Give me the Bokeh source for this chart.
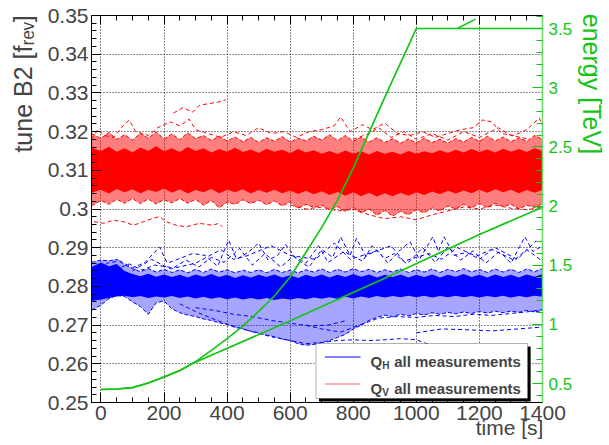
from bokeh.plotting import figure
from bokeh.models import (Range1d, LinearAxis, FixedTicker, CustomJSTickFormatter,
                          Label, BoxAnnotation, Grid)
from bokeh.embed import file_html
from bokeh.resources import INLINE

# ---------------- data ----------------
T = [-30, 0, 25, 50, 75, 100, 125, 150, 175, 200,
     225, 250, 275, 300, 325, 350, 375, 400, 425, 450,
     475, 500, 525, 550, 575, 600, 625, 650, 675, 700,
     725, 750, 775, 800, 825, 850, 875, 900, 925, 950,
     975, 1000, 1025, 1050, 1075, 1100, 1125, 1150, 1175, 1200,
     1225, 1250, 1275, 1300, 1325, 1350, 1375, 1400]

# Q_V (red) dense core and fringe envelopes
QV_CORE_HI = [0.3158, 0.3150, 0.3161, 0.3148, 0.3157, 0.3146, 0.3159, 0.3150, 0.3162, 0.3149,
              0.3157, 0.3147, 0.3160, 0.3150, 0.3157, 0.3146, 0.3155, 0.3148, 0.3158, 0.3147,
              0.3154, 0.3145, 0.3156, 0.3148, 0.3153, 0.3144, 0.3155, 0.3146, 0.3152, 0.3143,
              0.3150, 0.3142, 0.3151, 0.3143, 0.3149, 0.3141, 0.3150, 0.3143, 0.3148, 0.3141,
              0.3150, 0.3143, 0.3149, 0.3144, 0.3152, 0.3145, 0.3153, 0.3146, 0.3155, 0.3147,
              0.3154, 0.3146, 0.3156, 0.3148, 0.3155, 0.3147, 0.3157, 0.3150]
QV_CORE_LO = [0.3042, 0.3050, 0.3040, 0.3052, 0.3043, 0.3051, 0.3041, 0.3050, 0.3044, 0.3053,
              0.3042, 0.3051, 0.3040, 0.3049, 0.3043, 0.3052, 0.3041, 0.3050, 0.3043, 0.3051,
              0.3040, 0.3049, 0.3042, 0.3050, 0.3041, 0.3048, 0.3039, 0.3047, 0.3038, 0.3046,
              0.3036, 0.3044, 0.3034, 0.3043, 0.3033, 0.3042, 0.3032, 0.3041, 0.3033, 0.3042,
              0.3034, 0.3043, 0.3036, 0.3045, 0.3038, 0.3047, 0.3040, 0.3048, 0.3041, 0.3050,
              0.3042, 0.3051, 0.3043, 0.3050, 0.3041, 0.3049, 0.3042, 0.3050]
QV_FRINGE_HI = [0.3195, 0.3182, 0.3198, 0.3180, 0.3192, 0.3178, 0.3196, 0.3183, 0.3199, 0.3181,
                0.3194, 0.3179, 0.3197, 0.3182, 0.3190, 0.3177, 0.3188, 0.3176, 0.3186, 0.3174,
                0.3185, 0.3172, 0.3184, 0.3175, 0.3187, 0.3173, 0.3183, 0.3176, 0.3188, 0.3178,
                0.3192, 0.3177, 0.3190, 0.3175, 0.3186, 0.3173, 0.3184, 0.3172, 0.3182, 0.3170,
                0.3181, 0.3171, 0.3183, 0.3172, 0.3180, 0.3170, 0.3182, 0.3173, 0.3185, 0.3175,
                0.3188, 0.3176, 0.3186, 0.3174, 0.3184, 0.3175, 0.3190, 0.3180]
QV_FRINGE_LO = [0.3008, 0.3022, 0.3012, 0.3025, 0.3015, 0.3027, 0.3014, 0.3026, 0.3013, 0.3024,
                0.3016, 0.3027, 0.3015, 0.3025, 0.3010, 0.3022, 0.3003, 0.3018, 0.3012, 0.3024,
                0.3014, 0.3023, 0.3011, 0.3021, 0.3008, 0.3018, 0.3002, 0.3012, 0.3004, 0.3010,
                0.2998, 0.3006, 0.2994, 0.3004, 0.2990, 0.3000, 0.2984, 0.2996, 0.2982, 0.2994,
                0.2985, 0.2998, 0.2990, 0.3003, 0.2995, 0.3008, 0.3000, 0.3012, 0.3003, 0.3014,
                0.3004, 0.3015, 0.3006, 0.3012, 0.3000, 0.3010, 0.3004, 0.3014]

# Q_H (blue) dense core and fringe envelopes
QH_CORE_HI = [0.2850, 0.2862, 0.2852, 0.2858, 0.2840, 0.2832, 0.2826, 0.2833, 0.2825, 0.2831,
              0.2824, 0.2830, 0.2823, 0.2831, 0.2825, 0.2832, 0.2824, 0.2830, 0.2822, 0.2829,
              0.2823, 0.2830, 0.2824, 0.2831, 0.2823, 0.2829, 0.2822, 0.2830, 0.2824, 0.2831,
              0.2823, 0.2830, 0.2824, 0.2832, 0.2825, 0.2831, 0.2823, 0.2830, 0.2824, 0.2831,
              0.2823, 0.2830, 0.2824, 0.2831, 0.2823, 0.2830, 0.2825, 0.2832, 0.2824, 0.2830,
              0.2823, 0.2831, 0.2824, 0.2830, 0.2823, 0.2831, 0.2825, 0.2832]
QH_CORE_LO = [0.2762, 0.2766, 0.2770, 0.2774, 0.2776, 0.2772, 0.2775, 0.2770, 0.2774, 0.2771,
              0.2775, 0.2770, 0.2774, 0.2769, 0.2773, 0.2768, 0.2772, 0.2767, 0.2771, 0.2766,
              0.2770, 0.2766, 0.2770, 0.2765, 0.2769, 0.2766, 0.2770, 0.2767, 0.2771, 0.2768,
              0.2772, 0.2768, 0.2773, 0.2769, 0.2774, 0.2770, 0.2775, 0.2771, 0.2775, 0.2772,
              0.2776, 0.2772, 0.2776, 0.2771, 0.2775, 0.2772, 0.2776, 0.2772, 0.2775, 0.2771,
              0.2775, 0.2772, 0.2776, 0.2771, 0.2775, 0.2772, 0.2776, 0.2773]
QH_FRINGE_HI = [0.2862, 0.2868, 0.2866, 0.2870, 0.2856, 0.2846, 0.2838, 0.2846, 0.2837, 0.2844,
                0.2836, 0.2843, 0.2835, 0.2844, 0.2836, 0.2845, 0.2837, 0.2843, 0.2835, 0.2842,
                0.2836, 0.2843, 0.2835, 0.2844, 0.2836, 0.2842, 0.2835, 0.2843, 0.2837, 0.2845,
                0.2836, 0.2844, 0.2837, 0.2846, 0.2838, 0.2844, 0.2836, 0.2843, 0.2837, 0.2845,
                0.2836, 0.2843, 0.2837, 0.2845, 0.2836, 0.2844, 0.2838, 0.2846, 0.2837, 0.2844,
                0.2836, 0.2845, 0.2837, 0.2844, 0.2836, 0.2845, 0.2838, 0.2846]
QH_FRINGE_LO = [0.2738, 0.2752, 0.2768, 0.2777, 0.2774, 0.2760, 0.2748, 0.2728, 0.2758, 0.2762,
                0.2742, 0.2732, 0.2726, 0.2722, 0.2716, 0.2712, 0.2706, 0.2702, 0.2694, 0.2690,
                0.2684, 0.2680, 0.2674, 0.2670, 0.2664, 0.2660, 0.2652, 0.2648, 0.2650, 0.2655,
                0.2660, 0.2668, 0.2676, 0.2690, 0.2700, 0.2712, 0.2720, 0.2726, 0.2722, 0.2728,
                0.2724, 0.2730, 0.2726, 0.2732, 0.2728, 0.2733, 0.2729, 0.2734, 0.2730, 0.2735,
                0.2731, 0.2736, 0.2732, 0.2736, 0.2733, 0.2738, 0.2734, 0.2738]

# individual outlying Q_V measurements (dashed)
QV_OUT = [
    ([-30, -10, 10, 40, 70, 90, 110, 150, 180, 220, 250, 280, 300, 340, 380, 420, 460, 500, 540, 580,
      620, 660, 700, 740, 760, 790, 830, 860, 900, 940, 980, 1020, 1060, 1100, 1140, 1180, 1210, 1240,
      1270, 1310, 1350, 1390, 1400],
     [0.3180, 0.3205, 0.3190, 0.3185, 0.3215, 0.3230, 0.3200, 0.3190, 0.3210, 0.3225, 0.3215, 0.3232,
      0.3205, 0.3195, 0.3185, 0.3200, 0.3190, 0.3210, 0.3195, 0.3200, 0.3185, 0.3200, 0.3205, 0.3215,
      0.3238, 0.3200, 0.3218, 0.3205, 0.3222, 0.3195, 0.3190, 0.3200, 0.3185, 0.3195, 0.3205, 0.3210,
      0.3230, 0.3225, 0.3195, 0.3190, 0.3205, 0.3235, 0.3215]),
    ([230, 260, 290, 312, 340, 370, 396],
     [0.3248, 0.3262, 0.3250, 0.3268, 0.3272, 0.3276, 0.3282]),
    ([-22, 9, 40, 72, 103, 134, 166, 186, 207, 239, 270, 312, 353, 374, 385],
     [0.2967, 0.2963, 0.2971, 0.2967, 0.2958, 0.2967, 0.2976, 0.2980, 0.2967, 0.2958, 0.2954, 0.2963,
      0.2958, 0.2963, 0.2954]),
    ([600, 650, 700, 750, 800, 850, 900, 950, 1000, 1050, 1100, 1150, 1200, 1250, 1300, 1350, 1400],
     [0.3010, 0.3000, 0.3005, 0.2995, 0.3000, 0.2985, 0.2975, 0.2980, 0.2972, 0.2985, 0.2995, 0.3005,
      0.3000, 0.3010, 0.3002, 0.2998, 0.3005]),
    ([800, 850, 880, 920, 960, 1000, 1050, 1100, 1150, 1200, 1260, 1300, 1350],
     [0.3180, 0.3195, 0.3210, 0.3185, 0.3200, 0.3180, 0.3195, 0.3178, 0.3200, 0.3185, 0.3210, 0.3190,
      0.3182]),
]

# individual outlying Q_H measurements (dashed)
QH_OUT = [
    ([-20, 20, 60, 100, 140, 186, 210, 250, 290, 330, 370, 405, 430, 470, 500, 530, 560, 585, 620, 660,
      700, 735, 760, 790, 810, 840, 875, 910, 950, 980, 1010, 1052, 1070, 1088, 1120, 1160, 1200, 1240,
      1271, 1300, 1344, 1370, 1400],
     [0.2835, 0.2860, 0.2866, 0.2848, 0.2862, 0.2902, 0.2860, 0.2872, 0.2885, 0.2880, 0.2852, 0.2920,
      0.2870, 0.2890, 0.2912, 0.2868, 0.2880, 0.2909, 0.2870, 0.2850, 0.2895, 0.2875, 0.2928, 0.2880,
      0.2924, 0.2878, 0.2894, 0.2860, 0.2895, 0.2915, 0.2870, 0.2928, 0.2890, 0.2928, 0.2880, 0.2888,
      0.2870, 0.2895, 0.2884, 0.2860, 0.2928, 0.2890, 0.2905]),
    ([0, 50, 90, 130, 170, 230, 270, 310, 350, 390, 440, 480, 520, 570, 610, 650, 690, 720, 770, 830,
      860, 900, 930, 970, 1020, 1060, 1100, 1140, 1180, 1220, 1260, 1310, 1350, 1400],
     [0.2850, 0.2845, 0.2858, 0.2842, 0.2855, 0.2848, 0.2868, 0.2850, 0.2875, 0.2862, 0.2898, 0.2855,
      0.2885, 0.2850, 0.2878, 0.2860, 0.2905, 0.2862, 0.2890, 0.2865, 0.2905, 0.2872, 0.2885, 0.2858,
      0.2900, 0.2862, 0.2902, 0.2868, 0.2892, 0.2860, 0.2888, 0.2868, 0.2895, 0.2865]),
    ([100, 160, 220, 300, 380, 420, 460, 540, 600, 680, 740, 790, 850, 920, 960, 1040, 1080, 1130,
      1190, 1250, 1320, 1380],
     [0.2840, 0.2870, 0.2845, 0.2860, 0.2895, 0.2870, 0.2878, 0.2905, 0.2880, 0.2870, 0.2912, 0.2870,
      0.2885, 0.2905, 0.2865, 0.2885, 0.2870, 0.2900, 0.2878, 0.2900, 0.2870, 0.2918]),
    ([250, 300, 350, 400, 450, 500, 550, 600, 650, 700, 750, 800, 850, 900, 950, 1000, 1040],
     [0.2755, 0.2735, 0.2718, 0.2702, 0.2690, 0.2678, 0.2668, 0.2660, 0.2652, 0.2655, 0.2660, 0.2662,
      0.2660, 0.2662, 0.2665, 0.2662, 0.2650]),
    ([300, 360, 420, 480, 540, 600, 660, 720, 780],
     [0.2745, 0.2738, 0.2728, 0.2722, 0.2712, 0.2705, 0.2698, 0.2700, 0.2712]),
    ([650, 700, 760, 820, 880, 940, 1000, 1060, 1120, 1180, 1240, 1300, 1360, 1400],
     [0.2700, 0.2690, 0.2682, 0.2700, 0.2718, 0.2722, 0.2720, 0.2725, 0.2722, 0.2728, 0.2725, 0.2730,
      0.2735, 0.2740]),
    ([1000, 1080, 1160, 1240, 1320, 1400],
     [0.2680, 0.2690, 0.2688, 0.2685, 0.2690, 0.2695]),
]

# beam energy [TeV] vs time
E_RAMP_T = [0, 50, 100, 150, 200, 250, 300, 350, 400, 450, 500, 550, 600, 650, 700, 750, 800, 850,
            900, 950, 1000, 1400]
E_RAMP = [0.450, 0.454, 0.466, 0.505, 0.556, 0.610, 0.685, 0.780, 0.880, 0.985, 1.110, 1.240, 1.400,
          1.610, 1.820, 2.050, 2.320, 2.620, 2.920, 3.210, 3.500, 3.500]
E_SLOW_T = [0, 50, 100, 150, 200, 250, 290, 600, 900, 1200, 1400]
E_SLOW = [0.450, 0.454, 0.466, 0.505, 0.556, 0.610, 0.670, 1.030, 1.390, 1.760, 1.990]
E_LATE_T = [1130, 1188]
E_LATE = [3.50, 3.58]

X_TICKS = [0, 200, 400, 600, 800, 1000, 1200, 1400]
Y_TICKS = [0.25, 0.26, 0.27, 0.28, 0.29, 0.30, 0.31, 0.32, 0.33, 0.34, 0.35]
E_TICKS = [0.5, 1.0, 1.5, 2.0, 2.5, 3.0, 3.5]

# ---------------- figure ----------------
FONT = "Liberation Sans"
GREEN = "#16c416"
RED = "#ff0000"
BLUE = "#0000ff"
NB = "\u00a0"   # non-breaking space used to shift centred axis titles

XR = (-30, 1400)
YR = (0.25, 0.35)
ER = (0.34, 3.61)
FL, FR, FT, FB = 91, 547, 15, 402   # frame edges in canvas pixels


def dx(px):
    return XR[0] + (px - FL) / (FR - FL) * (XR[1] - XR[0])


def dy(py):
    return YR[0] + (FB - py) / (FB - FT) * (YR[1] - YR[0])


p = figure(width=609, height=445, x_range=Range1d(*XR), y_range=Range1d(*YR),
           x_axis_location=None, y_axis_location=None,
           output_backend="svg", toolbar_location=None,
           min_border_left=FL, min_border_right=609 - FR,
           min_border_top=FT, min_border_bottom=445 - FB)
p.extra_y_ranges = {"energy": Range1d(*ER)}
p.outline_line_color = None
p.xgrid.visible = False
p.ygrid.visible = False

xt = FixedTicker(ticks=X_TICKS, minor_ticks=[50 * i for i in range(29)])
yt = FixedTicker(ticks=Y_TICKS, minor_ticks=[round(0.25 + 0.002 * i, 3) for i in range(51)])
et = FixedTicker(ticks=E_TICKS, minor_ticks=[round(0.4 + 0.1 * i, 1) for i in range(33)])

p.add_layout(Grid(dimension=0, ticker=xt, grid_line_color="black", grid_line_dash="1 2",
                  grid_line_alpha=0.9))
p.add_layout(Grid(dimension=1, ticker=yt, grid_line_color="black", grid_line_dash="1 2",
                  grid_line_alpha=0.9))

common = dict(major_tick_out=0, minor_tick_out=0, major_label_text_font=FONT,
              axis_line_color="black", major_tick_line_color="black", minor_tick_line_color="black",
              axis_label_text_font=FONT, axis_label_text_font_style="normal")

bottom = LinearAxis(ticker=xt, major_tick_in=10, minor_tick_in=5, major_label_standoff=3,
                    major_label_text_font_size="21px",
                    axis_label=NB * 66 + "time [s]", axis_label_text_font_size="21px",
                    axis_label_align="center", axis_label_standoff=-7, **common)
p.add_layout(bottom, "below")

top = LinearAxis(ticker=xt, major_tick_in=9, minor_tick_in=5, major_label_standoff=0,
                 major_label_text_font_size="1px", major_label_text_alpha=0, **common)
p.add_layout(top, "above")

left = LinearAxis(ticker=yt, major_tick_in=9, minor_tick_in=5, major_label_standoff=3,
                  major_label_text_font_size="21px",
                  formatter=CustomJSTickFormatter(code="return tick.toFixed(2).replace(/0$/, '');"),
                  axis_label=NB * 36 + "tune B2 [f\u1d63\u2091\u1d65]",
                  axis_label_text_font_size="25px",
                  axis_label_align="center", axis_label_standoff=8, **common)
p.add_layout(left, "left")

right = LinearAxis(y_range_name="energy", ticker=et, major_tick_in=10, minor_tick_in=6,
                   major_tick_out=0, minor_tick_out=0, major_label_standoff=6,
                   major_label_text_font=FONT, major_label_text_font_size="17px",
                   major_label_text_color=GREEN, axis_line_color="#6ad86a", axis_line_width=1.5,
                   major_tick_line_color=GREEN, minor_tick_line_color=GREEN,
                   formatter=CustomJSTickFormatter(code="return String(+tick.toFixed(1));"),
                   axis_label="energy [TeV]" + NB * 36, axis_label_text_font=FONT,
                   axis_label_text_font_style="normal", axis_label_text_font_size="25px",
                   axis_label_text_color=GREEN, axis_label_align="center",
                   axis_label_standoff=3)
p.add_layout(right, "right")

# tune bands
p.varea(x=T, y1=QV_FRINGE_LO, y2=QV_FRINGE_HI, fill_color=RED, fill_alpha=0.5)
p.varea(x=T, y1=QV_CORE_LO, y2=QV_CORE_HI, fill_color=RED, fill_alpha=1.0)
p.line(T, QV_FRINGE_HI, line_color=RED, line_dash="4 2", line_width=1)
p.line(T, QV_FRINGE_LO, line_color=RED, line_dash="4 2", line_width=1)
for tx, ty in QV_OUT:
    p.line(tx, ty, line_color=RED, line_dash="4 3", line_width=1)

p.varea(x=T, y1=QH_FRINGE_LO, y2=QH_FRINGE_HI, fill_color=BLUE, fill_alpha=0.35)
p.varea(x=T, y1=QH_CORE_LO, y2=QH_CORE_HI, fill_color=BLUE, fill_alpha=1.0)
p.line(T, QH_FRINGE_HI, line_color=BLUE, line_dash="4 2", line_width=1)
p.line(T, QH_FRINGE_LO, line_color=BLUE, line_dash="4 2", line_width=1)
for tx, ty in QH_OUT:
    p.line(tx, ty, line_color=BLUE, line_dash="4 3", line_width=1)

# energy curves
p.line(E_RAMP_T, E_RAMP, y_range_name="energy", line_color=GREEN, line_width=1.7)
p.line(E_SLOW_T, E_SLOW, y_range_name="energy", line_color=GREEN, line_width=1.7)
p.line(E_LATE_T, E_LATE, y_range_name="energy", line_color=GREEN, line_width=1.5)

# legend (ROOT style with shadow)
p.add_layout(BoxAnnotation(left=dx(321), right=dx(535), top=dy(346), bottom=dy(401),
                           fill_color="black", fill_alpha=1, line_color=None))
p.add_layout(BoxAnnotation(left=dx(318), right=dx(532), top=dy(343), bottom=dy(398),
                           fill_color="white", fill_alpha=1, line_color="black", line_width=1))
p.segment(x0=[dx(327)], y0=[dy(356.5)], x1=[dx(363)], y1=[dy(356.5)],
          line_color=BLUE, line_width=1, level="overlay")
p.segment(x0=[dx(327)], y0=[dy(383.5)], x1=[dx(363)], y1=[dy(383.5)],
          line_color="#ff6b6b", line_width=1.2, level="overlay")


def lab(x, y, text, size, **kw):
    opts = dict(text_font=FONT, text_font_size=size, text_baseline="alphabetic")
    opts.update(kw)
    p.add_layout(Label(x=x, y=y, text=text, **opts))


for base, sub in ((361, "H"), (388, "V")):
    lab(dx(373), dy(base), "Q", "15px", text_font_style="bold")
    lab(dx(385), dy(base + 4), sub, "10px", text_font_style="bold")
    lab(dx(397), dy(base), "all measurements", "15px", text_font_style="bold")

open("out.html", "w").write(file_html(p, INLINE))
